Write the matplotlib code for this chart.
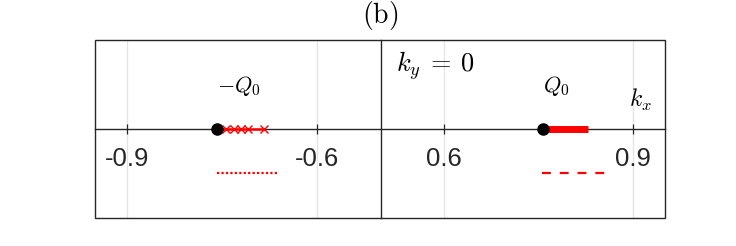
import matplotlib
matplotlib.use("Agg")
import matplotlib.pyplot as plt
from matplotlib.patches import Rectangle
from matplotlib.lines import Line2D

plt.rcParams['mathtext.fontset'] = 'cm'
plt.rcParams['font.family'] = ['Liberation Sans', 'DejaVu Sans']

# ---- data ----
Q0 = 0.757
left_xlim = (-0.95, -0.5)
right_xlim = (0.5, 0.95)
left_ticks = [-0.9, -0.6]
right_ticks = [0.6, 0.9]
left_tick_labels = ['-0.9', '-0.6']
right_tick_labels = ['0.6', '0.9']
cross_x = [-0.757, -0.743, -0.731, -0.720, -0.709, -0.683]
cross_y = [0, 0, 0, 0, 0, 0]
bar_x = [0.757, 0.828]
bar_y = [0, 0]
dotted_x = [-0.757, -0.662]
dotted_y = [-0.5, -0.5]
dashed_x = [0.755, 0.858]
dashed_y = [-0.5, -0.5]

W, H = 736, 246
fig = plt.figure(figsize=(W/100, H/100), dpi=100)
x0, x1, xm = 95, 665, 380.5
ytop, ybot = 39.5, 218
b = (H - ybot) / H
h = (ybot - ytop) / H
axL = fig.add_axes([x0/W, b, (xm - x0)/W, h])
axR = fig.add_axes([xm/W, b, (x1 - xm)/W, h])

edge = '#262626'
for ax, xl, tk, tl in [(axL, left_xlim, left_ticks, left_tick_labels),
                       (axR, right_xlim, right_ticks, right_tick_labels)]:
    ax.set_xlim(*xl)
    ax.set_ylim(-1, 1)
    ax.set_yticks([])
    ax.set_xticks(tk)
    ax.set_xticklabels(tl)
    ax.grid(axis='x', color='#e3e3e3', lw=0.9)
    ax.set_axisbelow(True)
    for s in ['top', 'left', 'right']:
        ax.spines[s].set_visible(False)
    ax.spines['bottom'].set_position(('data', 0))
    ax.spines['bottom'].set_color(edge)
    ax.spines['bottom'].set_linewidth(1.0)
    ax.tick_params(axis='x', direction='inout', length=7, width=0.9,
                   color=edge, labelsize=18.5, pad=10, labelcolor='#262626')

# outer box and middle divider
fig.add_artist(Rectangle((x0/W, b), (x1 - x0)/W, h, transform=fig.transFigure,
                         fill=False, edgecolor=edge, lw=1.0, zorder=5))
fig.add_artist(Line2D([xm/W, xm/W], [b, b + h], transform=fig.transFigure,
                      color=edge, lw=1.0, zorder=5))

# left panel
axL.plot(cross_x, cross_y, color='red', lw=1.8, marker='x', ms=6, mew=1.0, zorder=3)
axL.plot([-Q0], [0], 'o', color='black', ms=8, zorder=4)
axL.plot(dotted_x, dotted_y, color='red', lw=1.6, ls=(0, (1, 1)))
axL.text(-Q0, 0.48, r'$-Q_0$', fontsize=16, ha='left', va='center')

# right panel
axR.plot(bar_x, bar_y, color='red', lw=5, solid_capstyle='butt', zorder=3)
axR.plot([Q0], [0], 'o', color='black', ms=8, zorder=4)
axR.plot(dashed_x, dashed_y, color='red', lw=1.6, ls=(0, (4, 4)))
axR.text(Q0, 0.48, r'$Q_0$', fontsize=16, ha='left', va='center')
axR.text(0.524, 0.714, r'$k_y\:=\:0$', fontsize=19, ha='left', va='center')
axR.text(0.893, 0.32, r'$k_x$', fontsize=17, ha='left', va='center')

fig.text(xm/W, 1 - 15/H, r'$\mathrm{(b)}$', fontsize=20, ha='center', va='center')

fig.savefig('out.png', dpi=100)
